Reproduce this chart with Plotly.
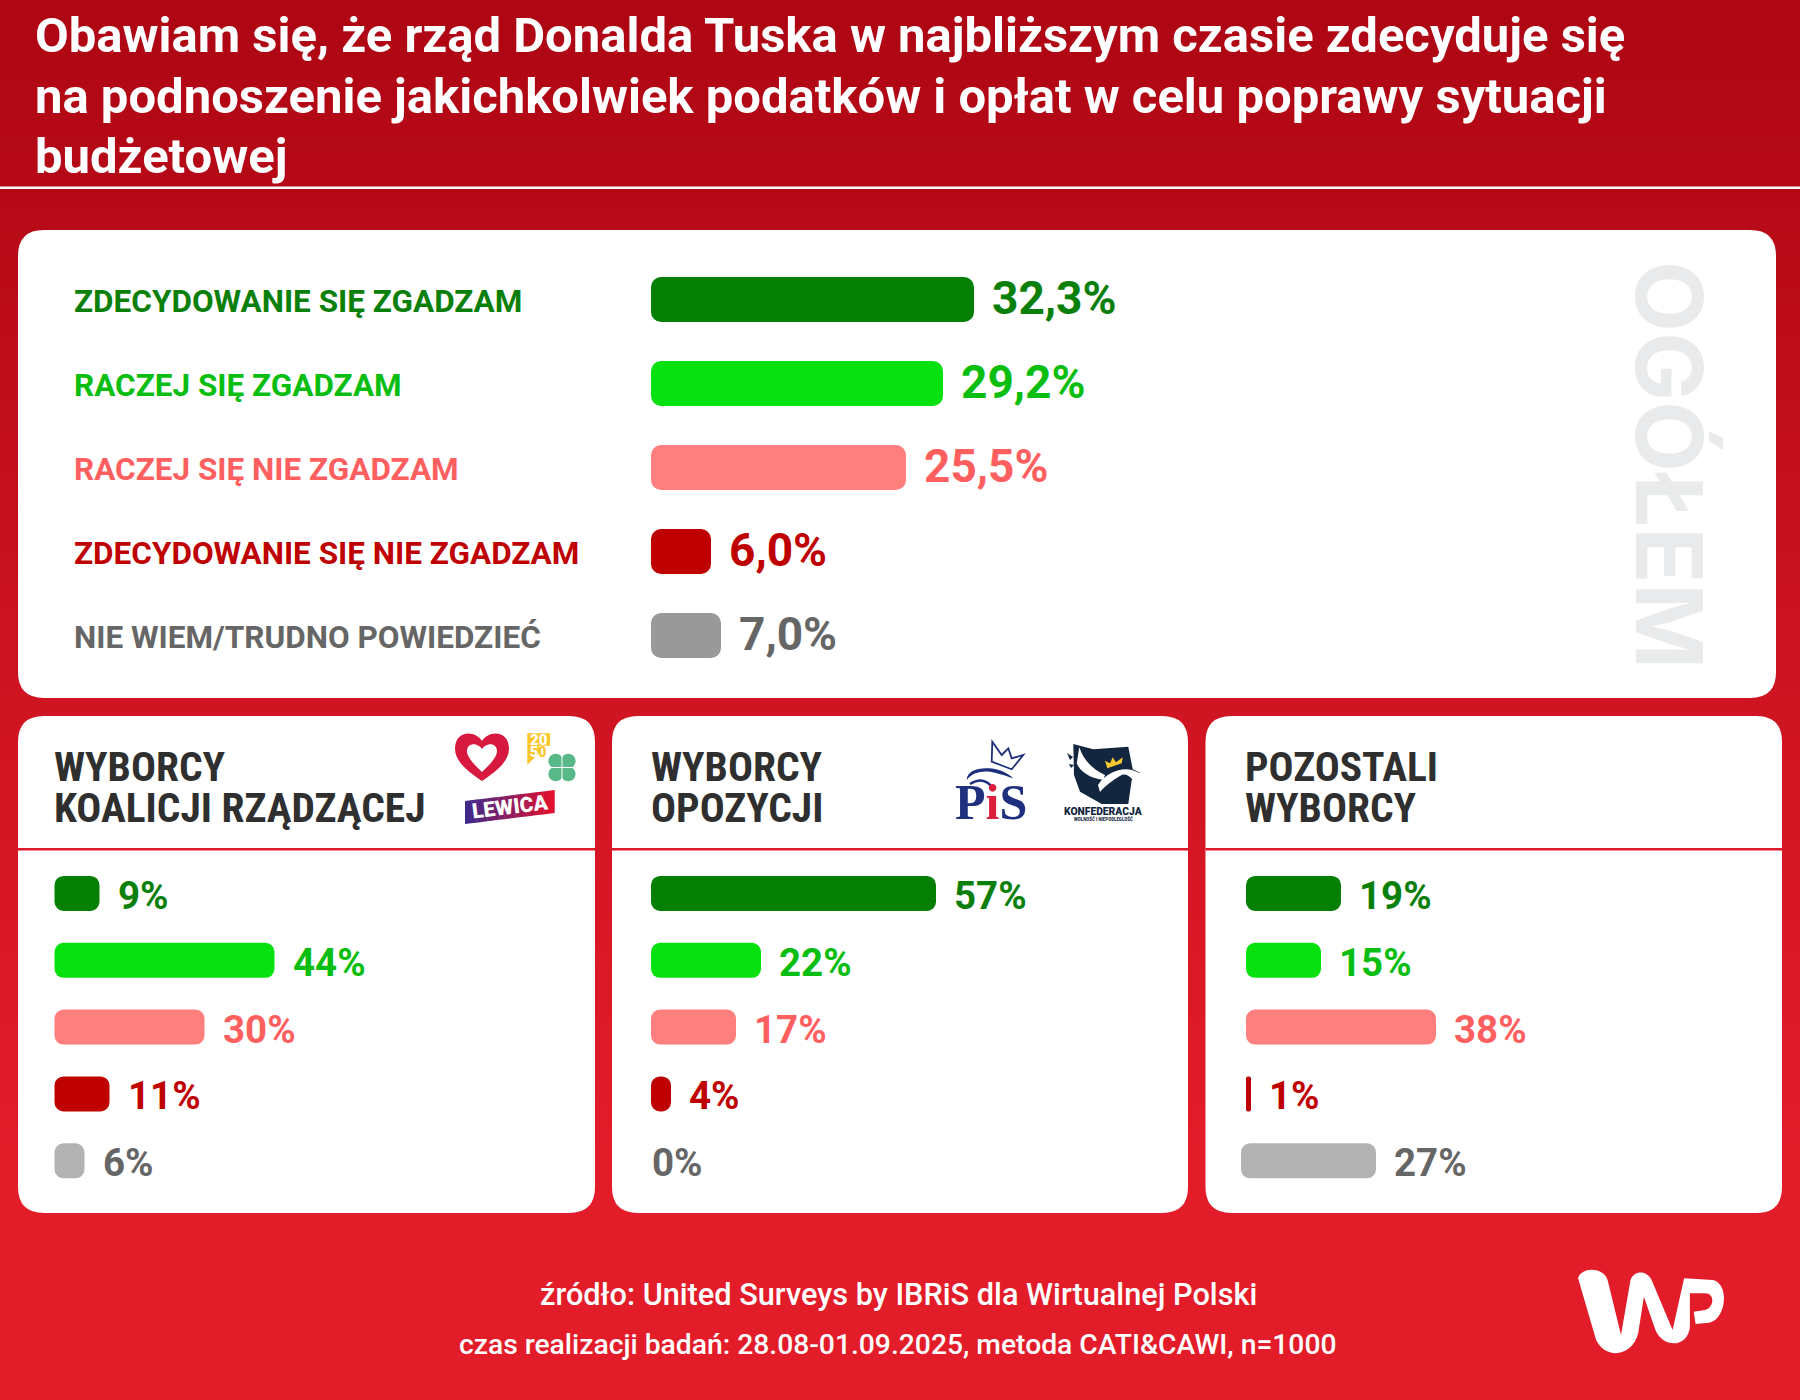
import re

import plotly.graph_objects as go

W = 1800
H = 1400

categories = [
    "ZDECYDOWANIE SIĘ ZGADZAM",
    "RACZEJ SIĘ ZGADZAM",
    "RACZEJ SIĘ NIE ZGADZAM",
    "ZDECYDOWANIE SIĘ NIE ZGADZAM",
    "NIE WIEM/TRUDNO POWIEDZIEĆ",
]
overall_values = [32.3, 29.2, 25.5, 6.0, 7.0]
overall_labels = ["32,3%", "29,2%", "25,5%", "6,0%", "7,0%"]
coalition_values = [9, 44, 30, 11, 6]
opposition_values = [57, 22, 17, 4, 0]
others_values = [19, 15, 38, 1, 27]

title_lines = [
    "Obawiam się, że rząd Donalda Tuska w najbliższym czasie zdecyduje się",
    "na podnoszenie jakichkolwiek podatków i opłat w celu poprawy sytuacji",
    "budżetowej",
]
source_line = "źródło: United Surveys by IBRiS dla Wirtualnej Polski"
method_line = "czas realizacji badań: 28.08-01.09.2025, metoda CATI&CAWI, n=1000"

bar_colors = ["#058005", "#06E10F", "#FF7F7F", "#BF0000", "#999999"]
bar_colors_small = ["#058005", "#06E10F", "#FF7F7F", "#BF0000", "#B3B3B3"]
text_colors = ["#0A800A", "#09BE10", "#FF5F5F", "#BF0000", "#666666"]
TITLE_DARK = "#2F2F2F"
NAVY = "#13263F"
PIS_BLUE = "#1E2F7E"
FONT = "Roboto"
NARROW = "Roboto Condensed, Roboto"


def px(x):
    return x / W


def py(y):
    return 1 - y / H


def path_px(d):
    # turns an absolute svg path in canvas pixels into paper coordinates
    nums = iter(re.findall(r"[A-Z]|-?[\d.]+", d))
    out = []
    for tok in nums:
        if tok.isalpha():
            out.append(tok)
        else:
            out.append(f"{px(float(tok)):.5f},{py(float(next(nums))):.5f}")
    return " ".join(out)


def rounded(x0, y0, x1, y1, r):
    return (
        f"M {x0 + r} {y0} L {x1 - r} {y0} Q {x1} {y0} {x1} {y0 + r} "
        f"L {x1} {y1 - r} Q {x1} {y1} {x1 - r} {y1} "
        f"L {x0 + r} {y1} Q {x0} {y1} {x0} {y1 - r} "
        f"L {x0} {y0 + r} Q {x0} {y0} {x0 + r} {y0} Z"
    )


def mix(c0, c1, t):
    return "rgb({},{},{})".format(*[round(a + (b - a) * t) for a, b in zip(c0, c1)])


shapes = []
annotations = []


def add_path(d, fill=None, line=None, width=0, layer="above"):
    shapes.append(dict(
        type="path", path=path_px(d), xref="paper", yref="paper", layer=layer,
        fillcolor=fill if fill else "rgba(0,0,0,0)",
        line=dict(color=line if line else "rgba(0,0,0,0)", width=width),
    ))


def add_circle(cx, cy, r, fill):
    shapes.append(dict(
        type="circle", xref="paper", yref="paper", layer="above", line_width=0,
        x0=px(cx - r), x1=px(cx + r), y0=py(cy + r), y1=py(cy - r), fillcolor=fill,
    ))


def add_text(x, y, text, size, color, family=FONT, weight=400, anchor="left", angle=0):
    annotations.append(dict(
        x=px(x), y=py(y), xref="paper", yref="paper", text=text, showarrow=False,
        xanchor=anchor, yanchor="middle", align=anchor, textangle=angle, borderpad=0,
        font=dict(family=family, size=size, color=color, weight=weight),
    ))


# background gradient, one band every 10 px
for top in range(0, H, 10):
    t = min(top / 1150, 1)
    shapes.append(dict(
        type="rect", xref="paper", yref="paper", layer="below",
        x0=0, x1=1, y0=py(top), y1=py(top + 11), line_width=0,
        fillcolor=mix((174, 6, 20), (227, 28, 42), t),
    ))

# header rule
shapes.append(dict(
    type="rect", xref="paper", yref="paper", layer="below",
    x0=0, x1=1, y0=py(186.5), y1=py(189), line_width=0, fillcolor="#FFFFFF",
))

# cards
add_path(rounded(18, 230, 1776, 698, 26), fill="#FFFFFF", layer="below")
for left, right in [(18, 595), (612, 1188), (1205.5, 1782)]:
    add_path(rounded(left, 716, right, 1213, 26), fill="#FFFFFF", layer="below")
    shapes.append(dict(
        type="rect", xref="paper", yref="paper", layer="below",
        x0=px(left), x1=px(right), y0=py(848), y1=py(850.5), line_width=0,
        fillcolor="#DD1A29",
    ))

# panels: values, zero in px, px per point, row and bar height, bar colours
panels = [
    dict(values=overall_values, labels=overall_labels, zero=651, scale=10,
         top=257.5, row=84, bar=45, colors=bar_colors, size=46, radius=10, end=1600,
         yshift=1.5),
    dict(values=coalition_values, zero=54.5, scale=5, top=860, row=66.85, bar=35,
         colors=bar_colors_small, size=38.5, radius=9, end=590, yshift=-2),
    dict(values=opposition_values, zero=651, scale=5, top=860, row=66.85, bar=35,
         colors=bar_colors_small, size=38.5, radius=9, end=1180, yshift=-2),
    dict(values=others_values, zero=1246, scale=5, top=860, row=66.85, bar=35,
         colors=bar_colors_small, size=38.5, radius=9, end=1776, yshift=-2,
         base=[0, 0, 0, 0, -1]),
]

fig = go.Figure()
layout_axes = {}
for i, panel in enumerate(panels, start=1):
    xname, yname = f"x{i}", f"y{i}"
    start = panel["zero"] - 10
    bases = panel.get("base", [0, 0, 0, 0, 0])
    fig.add_trace(go.Bar(
        x=panel["values"],
        y=categories,
        base=bases,  # with a base plotly rounds both ends of the bar
        orientation="h",
        width=panel["bar"] / panel["row"],
        marker=dict(color=panel["colors"], cornerradius=panel["radius"], line_width=0),
        xaxis=xname,
        yaxis=yname,
        hoverinfo="skip",
        showlegend=False,
    ))
    layout_axes[f"xaxis{i}"] = dict(
        domain=[px(start), px(panel["end"])],
        range=[-10 / panel["scale"], (panel["end"] - panel["zero"]) / panel["scale"]],
        visible=False, fixedrange=True, anchor=yname,
    )
    layout_axes[f"yaxis{i}"] = dict(
        domain=[py(panel["top"] + 5 * panel["row"]), py(panel["top"])],
        range=[4.5, -0.5], type="category", categoryorder="array",
        categoryarray=categories, visible=False, fixedrange=True, anchor=xname,
    )
    labels = panel.get("labels") or [f"{v}%" for v in panel["values"]]
    for cat, val, lab, col, b in zip(categories, panel["values"], labels, text_colors, bases):
        annotations.append(dict(
            x=val + b, y=cat, xref=xname, yref=yname, text=lab, showarrow=False,
            xanchor="left", yanchor="middle", xshift=17 if val else 0,
            yshift=panel["yshift"], borderpad=0,
            font=dict(family=FONT, size=panel["size"], color=col, weight=700),
        ))

# overall row labels
for cat, col in zip(categories, text_colors):
    annotations.append(dict(
        x=px(73), y=cat, xref="paper", yref="y1", text=cat, showarrow=False,
        xanchor="left", yanchor="middle", yshift=-1.5, borderpad=0,
        font=dict(family=FONT, size=31.5, color=col, weight=700),
    ))

for line, y in zip(title_lines, [35.5, 96, 156]):
    add_text(33.5, y, line, 49, "#FFFFFF", weight=700)
add_text(1669.5, 464.5, "OGÓŁEM", 92, "#E9EAEB", family="Inter", weight=700, anchor="center", angle=90)
add_text(898, 1294, source_line, 30.7, "#FFFFFF", weight=500, anchor="center")
add_text(898, 1344, method_line, 28.25, "#FFFFFF", weight=500, anchor="center")

# card titles
for x, first, second in [
    (53, "WYBORCY", "KOALICJI RZĄDZĄCEJ"),
    (650, "WYBORCY", "OPOZYCJI"),
    (1244, "POZOSTALI", "WYBORCY"),
]:
    add_text(x, 766, first, 41.5, TITLE_DARK, family=NARROW, weight=700)
    add_text(x, 807, second, 41.5, TITLE_DARK, family=NARROW, weight=700)

# heart logo
add_path(
    "M 482 741 C 475 730 455 730 455 749 C 455 763 472 774 482 781 "
    "C 492 774 509 763 509 749 C 509 730 489 730 482 741 Z",
    fill="#D7193F",
)
add_path(
    "M 482 749 C 477 742 467 743 467 751 C 467 758 476 766 482 772 "
    "C 488 766 497 758 497 751 C 497 743 487 742 482 749 Z",
    fill="#FFFFFF",
)

# 2050 logo
add_path(
    "M 527.3 733.3 L 550 733.3 L 550 745.7 L 539 745.7 L 539 753 L 527.3 765 Z",
    fill="#F9C62B",
)
add_text(538.6, 740, "20", 15, "#FFFFFF", weight=900, anchor="center")
add_text(538, 751.5, "5<span style='color:#F9C62B'>0</span>", 14, "#FFFFFF", weight=900, anchor="center")

# clover
for cx, cy in [(555.7, 761), (568.3, 761), (555.7, 774), (568.3, 774)]:
    add_circle(cx, cy, 7.3, "#58B887")
add_circle(562, 767.5, 4, "#58B887")
add_path("M 562 755 L 562 780 M 550 767.5 L 574 767.5", line="#FFFFFF", width=1)

# lewica banner, split in slices for the gradient
for s in range(16):
    x0 = 465 + 89.3 * s / 16
    x1 = 465 + 89.3 * (s + 1) / 16 + 0.4
    top0 = 801 - 11 * s / 16
    top1 = 801 - 11 * (s + 1) / 16
    add_path(
        f"M {x0} {top0} L {x1} {top1} L {x1} {top1 + 23} L {x0} {top0 + 23} Z",
        fill=mix((63, 42, 140), (224, 16, 47), s / 15),
    )
add_text(510, 807.5, "LEWICA", 21, "#FFFFFF", weight=900, anchor="center", angle=-7)

# pis logo
add_text(991.5, 802, "P<span style='color:#DB1F3C'>i</span>S", 50, PIS_BLUE, family="Liberation Serif", weight=700, anchor="center")
add_path(
    "M 992.3 741.7 L 1001.7 755 L 1008.3 748.3 L 1011.7 758.3 L 1023.3 755 "
    "L 1011.7 769.3 L 991.7 761.7 Z",
    line=PIS_BLUE, width=1.8,
)
add_path(
    "M 966.7 780 C 966.7 771.7 976.7 767.3 990 768.3 C 1000 769.3 1008.3 773.3 1013.3 778.3 "
    "C 1003.3 775 996.7 772.7 990 771.7 C 980 770.7 971.7 773.3 966.7 780 Z",
    fill=PIS_BLUE,
)
add_path("M 970 784 C 980 778 988 780 994 790", line=PIS_BLUE, width=2.5)

# konfederacja logo
add_path(
    "M 1073.3 744 L 1093.3 749.3 L 1128.3 746.7 L 1132.7 769.3 L 1140 772.7 L 1131.7 780 "
    "L 1128.3 804 L 1101.7 804 L 1080 791.7 L 1074 775 Z",
    fill=NAVY,
)
add_path(
    "M 1079.3 747.3 C 1083.3 760 1093.3 770 1105 775 L 1103.3 780 "
    "C 1090 778.3 1080 771.7 1076.7 763.3 Z",
    fill="#FFFFFF",
)
add_path("M 1067 753 L 1073 757 L 1070 760 Z", fill=NAVY)
add_path("M 1069 764 L 1074 765 L 1071 768 Z", fill=NAVY)
add_path(
    "M 1098 785 C 1106 772 1122 767 1132 770 L 1142 774 L 1133 780 "
    "C 1129 775 1124 773 1120 776 C 1112 781 1106 785 1100 792 Z",
    fill="#FFFFFF",
)
add_path(
    "M 1105 760.7 L 1110 763.3 L 1112.7 757.3 L 1116 762.3 L 1122.7 757.3 L 1121.7 763.3 "
    "L 1107.3 768.3 Z",
    fill="#F6C92F",
)
add_text(1103.7, 811.5, "KONFEDERACJA", 10.3, NAVY, weight=900, anchor="center")
add_text(1103.7, 819, "WOLNOŚĆ I NIEPODLEGŁOŚĆ", 5, NAVY, family=NARROW, weight=700, anchor="center")

# wp logo
add_path(
    "M 1578.1 1278.3 C 1580.8 1266.7 1603.7 1266.7 1607.6 1280 L 1621 1335 "
    "L 1630.5 1280 C 1634 1270 1647 1270 1651.6 1280 L 1672.6 1330 L 1684.1 1278.3 "
    "L 1712.8 1280 C 1730 1283.3 1726.2 1320 1709 1322.7 L 1695.6 1324 L 1693.7 1311.7 "
    "L 1705.2 1310 C 1714.7 1306.7 1714.7 1293.3 1705.2 1293.3 L 1689.9 1293.3 "
    "L 1689.9 1326.7 C 1688 1348.3 1663 1348.3 1655.4 1330 L 1643.9 1296.7 L 1638.2 1333.3 "
    "C 1632.5 1356.7 1605.7 1360 1596.1 1340 Z",
    fill="#FFFFFF",
)

fig.update_layout(
    width=W,
    height=H,
    margin=dict(l=0, r=0, t=0, b=0),
    paper_bgcolor="#E31C2A",
    plot_bgcolor="rgba(0,0,0,0)",
    shapes=shapes,
    annotations=annotations,
    hovermode=False,
    showlegend=False,
    **layout_axes,
)

# the page body has a default margin that would shift the chart
fig.write_html(
    "out.html",
    config={"displayModeBar": False},
    post_script="document.body.style.margin='0';",
)
